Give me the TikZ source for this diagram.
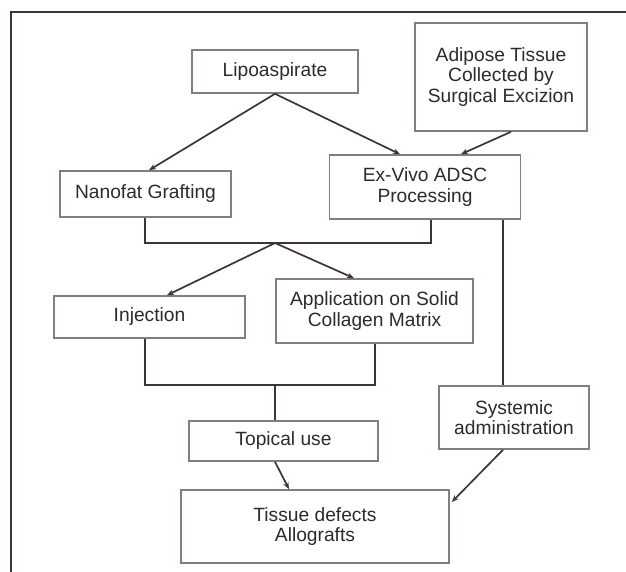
\documentclass[tikz,border=0pt]{standalone}
\usepackage{fontspec}
\setmainfont{Liberation Sans}
\usetikzlibrary{arrows.meta,calc}
\definecolor{boxc}{HTML}{857C7C}
\definecolor{linec}{HTML}{3E3434}
\definecolor{txtc}{HTML}{2E2A2A}
\begin{document}
\begin{tikzpicture}[x=1pt,y=-1pt,
  box/.style={draw=boxc,line width=1.6pt,fill=white,inner sep=2pt,align=center,text=txtc,
    font=\fontsize{19.2}{20.2}\selectfont},
  conn/.style={draw=linec,line width=1.7pt},
  arr/.style={conn,-{Stealth[length=7pt,width=5.5pt]}}]
\useasboundingbox (0,0) rectangle (626,572);
\fill[white] (0,0) rectangle (626,572);
\draw[draw=linec,line width=1.8pt] (11,572) -- (11,12) -- (626,12);
\node[box,minimum width=166,minimum height=43] (lipo) at (275,71.5) {Lipoaspirate};
\node[box,minimum width=172,minimum height=108] (adip) at (501,77) {Adipose Tissue\\Collected by\\Surgical Excizion};
\node[box,minimum width=171,minimum height=46] (nano) at (145.5,194) {Nanofat Grafting};
\node[box,minimum width=191,minimum height=64] (exv) at (425,187) {Ex-Vivo ADSC\\Processing};
\node[box,minimum width=191,minimum height=42] (inj) at (149.5,317) {Injection};
\node[box,minimum width=197,minimum height=64] (app) at (374.5,311) {Application on Solid\\Collagen Matrix};
\node[box,minimum width=189,minimum height=40] (top) at (283.5,441) {Topical use};
\node[box,minimum width=150,minimum height=63] (sys) at (514,417.5) {Systemic\\administration};
\node[box,minimum width=268,minimum height=73] (tis) at (315,526.5) {Tissue defects\\Allografts};
\coordinate (j1) at (275,243);
\coordinate (j2) at (275,385);
\draw[arr] (lipo.south) -- ($(nano.north)+(3.5,0)$);
\draw[arr] (lipo.south) -- ($(exv.north)+(-25,0)$);
\draw[arr] ($(adip.south)+(10,0)$) -- ($(exv.north)+(36,0)$);
\draw[conn] ($(nano.south)+(-0.5,0)$) |- (j1) -| ($(exv.south)+(6,0)$);
\draw[arr] (j1) -- ($(inj.north)+(17.5,0)$);
\draw[arr] (j1) -- ($(app.north)+(-20.5,0)$);
\draw[conn] ($(inj.south)+(-4.5,0)$) |- (j2) -| ($(app.south)+(0.5,0)$);
\draw[conn] (j2) -- (j2 |- top.north);
\draw[conn] ($(exv.south)+(78,0)$) -- ($(sys.north)+(-11,0)$);
\draw[arr] ($(top.south)+(-8.5,0)$) -- ($(tis.north)+(-26,0)$);
\draw[arr] ($(sys.south)+(-11,0)$) -- ($(tis.east)+(2,-24.5)$);
\end{tikzpicture}
\end{document}
